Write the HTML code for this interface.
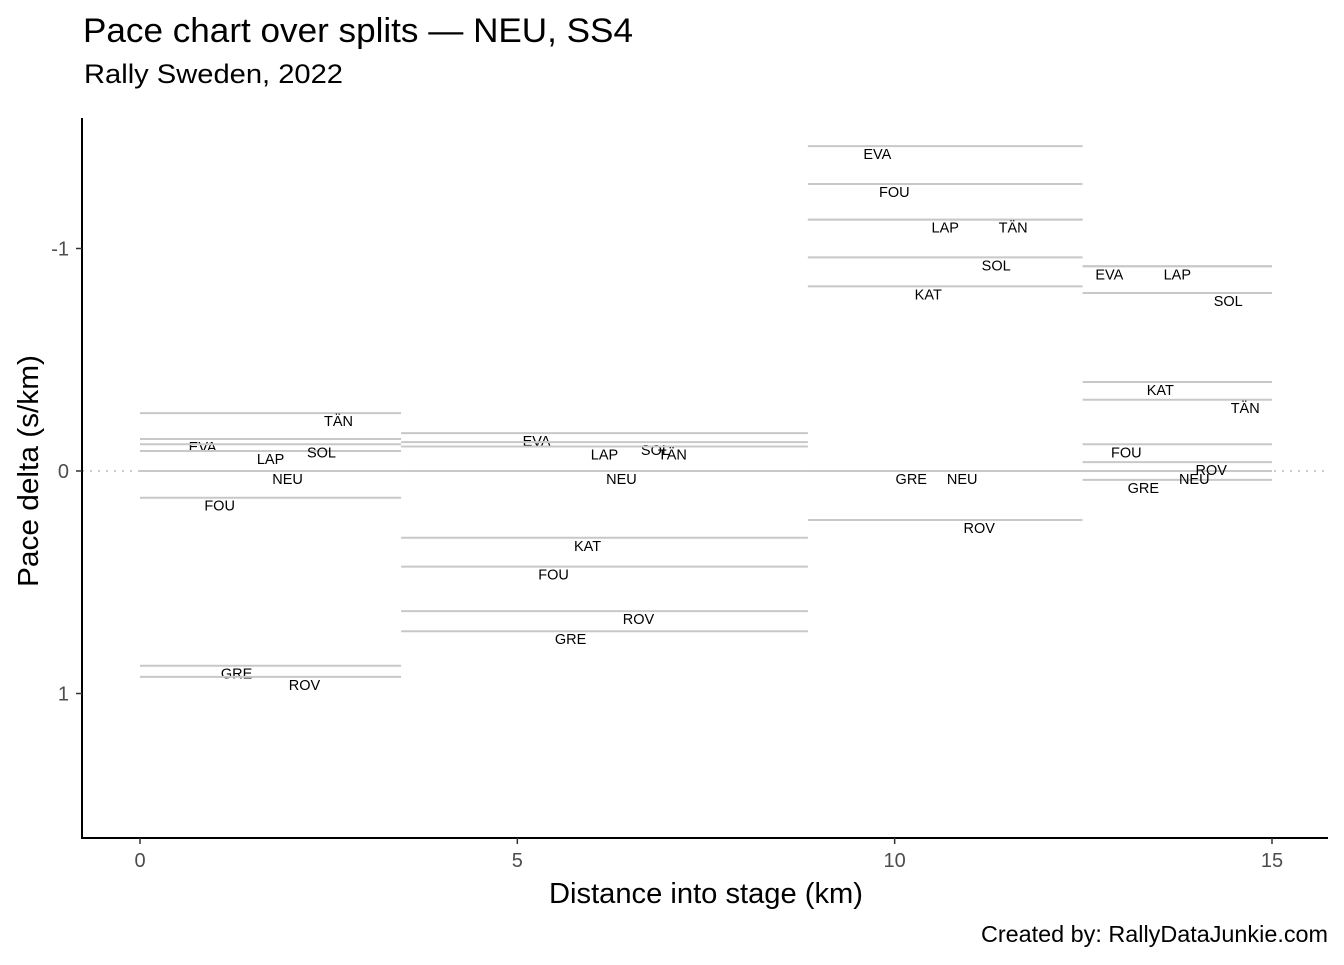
<!DOCTYPE html>
<html><head><meta charset="utf-8"><style>
body{margin:0;background:#fff;}
svg text{font-family:"Liberation Sans",Arial,sans-serif;}
</style></head><body>
<svg id="chart" width="1344" height="960" xmlns="http://www.w3.org/2000/svg">
<rect width="1344" height="960" fill="#fff"/>
<text x="83" y="42" font-size="34" textLength="550" lengthAdjust="spacingAndGlyphs">Pace chart over splits — NEU, SS4</text>
<text x="84" y="83" font-size="27" textLength="259" lengthAdjust="spacingAndGlyphs">Rally Sweden, 2022</text>
<line x1="82" x2="1328" y1="471" y2="471" stroke="#ccc" stroke-width="2" stroke-dasharray="2,6"/>
<g id="marks"></g>
<line x1="82" x2="82" y1="118" y2="838" stroke="#000" stroke-width="2"/>
<line x1="81" x2="1328" y1="838" y2="838" stroke="#000" stroke-width="2"/>
<g id="axes"></g>
<text transform="translate(38,471) rotate(-90)" text-anchor="middle" font-size="29" textLength="232" lengthAdjust="spacingAndGlyphs">Pace delta (s/km)</text>
<text x="706" y="903" text-anchor="middle" font-size="29" textLength="314" lengthAdjust="spacingAndGlyphs">Distance into stage (km)</text>
<text x="1328" y="942" text-anchor="end" font-size="23" textLength="347" lengthAdjust="spacingAndGlyphs">Created by: RallyDataJunkie.com</text>
</svg>
<script>
const splitStarts=[0,3.46,8.85,12.49];
const splitEnds=[3.46,8.85,12.49,15];
const drivers=["EVA","FOU","GRE","KAT","LAP","NEU","ROV","SOL","TÄN"];
const paceSplit1=[-0.144,0.12,0.875,null,-0.09,0,0.925,-0.12,-0.26];
const paceSplit2=[-0.17,0.43,0.72,0.30,-0.11,0,0.63,-0.13,-0.11];
const paceSplit3=[-1.46,-1.29,0,-0.83,-1.13,0,0.22,-0.96,-1.13];
const paceSplit4=[-0.92,-0.12,0.04,-0.40,-0.92,0,-0.04,-0.80,-0.32];
const xTicks=[0,5,10,15];
const yTicks=[-1,0,1];
const paces=[paceSplit1,paceSplit2,paceSplit3,paceSplit4];
const NS="http://www.w3.org/2000/svg";
const xs=v=>140+v*(1272-140)/15;
const ys=v=>471+v*222.5;
const marks=document.getElementById('marks'),axes=document.getElementById('axes');
function mk(tag,attrs,parent){const e=document.createElementNS(NS,tag);for(const k in attrs)e.setAttribute(k,attrs[k]);parent.appendChild(e);return e;}
paces.forEach((arr,s)=>{
  const mid=(splitStarts[s]+splitEnds[s])/2;
  arr.forEach((v,i)=>{
    if(v===null)return;
    const l=mk('line',{x1:xs(splitStarts[s]),x2:xs(splitEnds[s]),y1:ys(v),y2:ys(v),stroke:'#c8c8c8','stroke-width':2},marks);
    
    
    const t=mk('text',{x:xs(mid+(i-4)*0.225),y:ys(v)+13,'text-anchor':'middle','font-size':14.5},marks);
    t.textContent=drivers[i];
    
    
  });
});
xTicks.forEach(v=>{
  const l=mk('line',{x1:xs(v),x2:xs(v),y1:838,y2:844,stroke:'#333','stroke-width':1.5},axes);
  
  
  const t=mk('text',{x:xs(v),y:867,'text-anchor':'middle','font-size':20,fill:'#4d4d4d'},axes);
  t.textContent=v;
  
  
});
yTicks.forEach(v=>{
  const l=mk('line',{x1:76,x2:82,y1:ys(v),y2:ys(v),stroke:'#333','stroke-width':1.5},axes);
  
  
  const t=mk('text',{x:69,y:ys(v)+7,'text-anchor':'end','font-size':20,fill:'#4d4d4d'},axes);
  t.textContent=v;
  
  
});
</script>
</body></html>
